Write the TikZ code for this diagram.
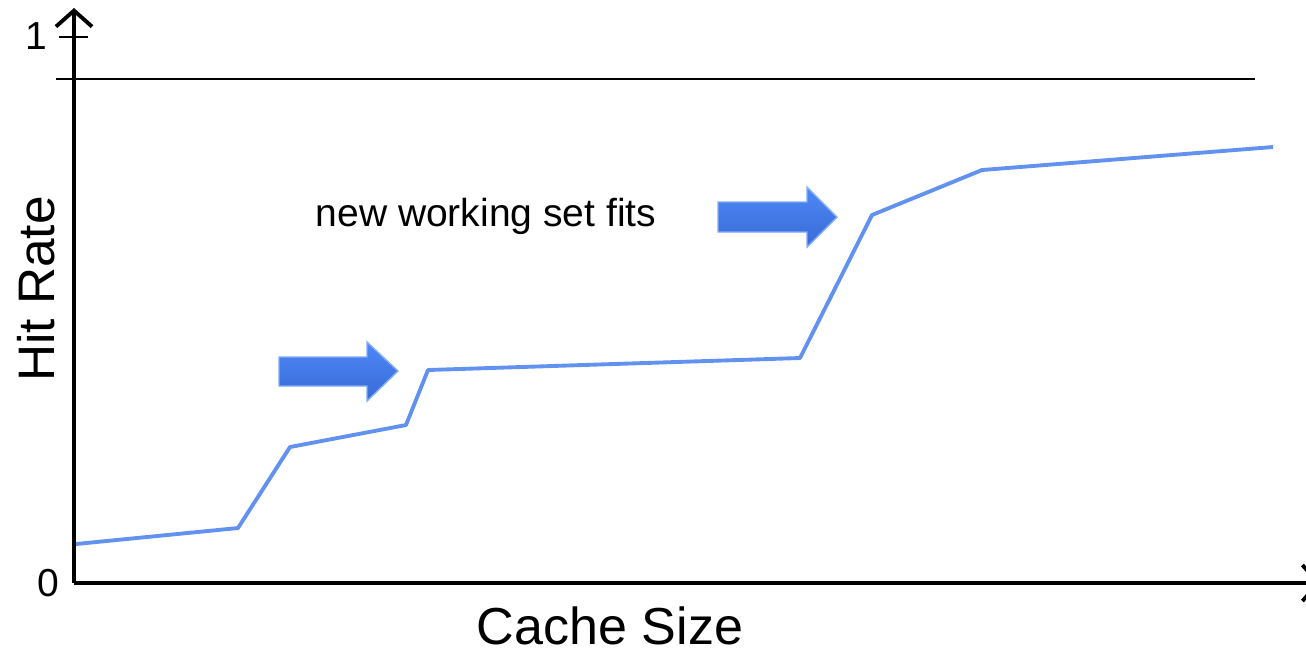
\documentclass[tikz,border=0pt]{standalone}
\usepackage{fontspec}
\setmainfont{Liberation Sans}
\usetikzlibrary{shapes.arrows,positioning,arrows.meta,calc}
\definecolor{curveblue}{RGB}{98,146,240}
\definecolor{arrtop}{RGB}{78,136,246}
\definecolor{arrbot}{RGB}{56,106,214}

\begin{document}
\begin{tikzpicture}[x=0.01cm,y=-0.01cm]
\tikzstyle{axis}=[line width=1.1pt, -{Straight Barb[length=1.6mm,width=3.6mm,line width=1.1pt]}];
\tikzstyle{fitarrow}=[draw=arrtop!70!white, line width=0.4pt, top color=arrtop, bottom color=arrbot];
\useasboundingbox (0,0) rectangle (1306,653);
\begin{scope}[font=\fontsize{11.1}{13}\selectfont]
  \coordinate (origin) at (74,583);
  \coordinate (ytop) at (74,8);
  \coordinate (xend) at (1321,583);
  \node (one) at (36,36) {1};
  \node (zero) at (48,583) {0};
  \node (ylabel) at (36,289) [rotate=90, font=\fontsize{14.6}{17}\selectfont]{Hit Rate};
  \node (xlabel) at (610,626) [inner sep=0pt, font=\fontsize{14.8}{17}\selectfont]{Cache Size};
  \node (fits) at (486,216) {new working set fits};

  \draw[line width=0.6pt] (56,79) -- (1255,79);
  \draw[line width=0.6pt] (59,37) -- (88,37);
  \draw[axis] (origin) -- (ytop);
  \draw[axis] (origin) -- (xend);

  % hit rate curve
  \draw[curveblue, line width=1.1pt, line join=round]
    (76,544) -- (238,528) -- (290,447) -- (406,425) -- (428,370)
    -- (800,358) -- (872,215) -- (982,170) -- (1273,147);

  % block arrows
  \draw[fitarrow] (279,357) -- (367,357) -- (367,342) -- (398,371)
    -- (367,401) -- (367,386) -- (279,386) -- cycle;
  \draw[fitarrow] (718,202) -- (807,202) -- (807,187) -- (837,217)
    -- (807,247) -- (807,232) -- (718,232) -- cycle;
\end{scope}
\end{tikzpicture}
\end{document}
